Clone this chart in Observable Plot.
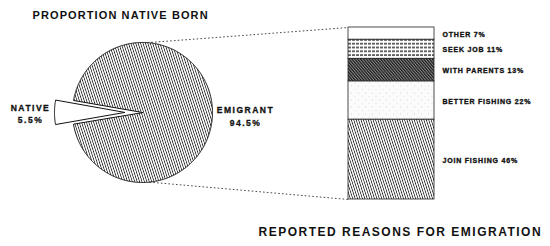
<!DOCTYPE html>
<html>
<head>
<meta charset="utf-8">
<script src="https://cdn.jsdelivr.net/npm/d3@7"></script>
<script src="https://cdn.jsdelivr.net/npm/@observablehq/plot@0.6"></script>
<style>
  html, body { margin: 0; padding: 0; background: #fff; }
  #chart svg { display: block; }
</style>
</head>
<body>
<!-- fill textures shared by the pie and the column -->
<svg width="0" height="0" style="position:absolute">
  <defs>
    <pattern id="fine-lines" patternUnits="userSpaceOnUse" width="2.3" height="10" patternTransform="rotate(-18)">
      <rect width="2.3" height="10" fill="#fff"/>
      <rect width="0.8" height="10" fill="#2a2a2a"/>
    </pattern>
    <pattern id="dark-lines" patternUnits="userSpaceOnUse" width="2.2" height="10" patternTransform="rotate(-40)">
      <rect width="2.2" height="10" fill="#8a8a8a"/>
      <rect width="1.2" height="10" fill="#1a1a1a"/>
    </pattern>
    <pattern id="dash-rows" patternUnits="userSpaceOnUse" width="4" height="3.8">
      <rect width="4" height="3.8" fill="#fff"/>
      <rect x="0" y="1.2" width="3" height="1.4" fill="#2a2a2a"/>
    </pattern>
    <pattern id="stipple" patternUnits="userSpaceOnUse" width="7" height="7">
      <rect width="7" height="7" fill="#fbfbfb"/>
      <circle cx="1.5" cy="2" r="0.45" fill="#b0b0b0"/>
      <circle cx="5" cy="5.5" r="0.4" fill="#c4c4c4"/>
    </pattern>
  </defs>
</svg>
<div id="chart"></div>
<script>
// Where residents were born
const origins = ["NATIVE", "EMIGRANT"];
const originShares = [5.5, 94.5];

// Reasons given for emigrating, listed from the bottom of the column up
const reasons = ["JOIN FISHING", "BETTER FISHING", "WITH PARENTS", "SEEK JOB", "OTHER"];
const reasonShares = [46, 22, 13, 11, 7];

const titles = ["PROPORTION NATIVE BORN", "REPORTED REASONS FOR EMIGRATION"];

// Layout
const W = 550, H = 246;
const pie = {cx: 142, cy: 112, r: 70, explode: 18};
const bar = {left: 348, right: 434, top: 27, bottom: 199};

// Textures for each piece
const originFill = {"NATIVE": "#fff", "EMIGRANT": "url(#fine-lines)"};
const reasonFill = {
  "JOIN FISHING": "url(#fine-lines)",
  "BETTER FISHING": "url(#stipple)",
  "WITH PARENTS": "url(#dark-lines)",
  "SEEK JOB": "url(#dash-rows)",
  "OTHER": "#fff"
};

const total = d3.sum(reasonShares);
// The y scale is in percent of emigrants; layout rows are converted into it
const yOf = py => total * (bar.bottom - py) / (bar.bottom - bar.top);

// Pie slices, with the native slice centred on the left and pulled out
const originTotal = d3.sum(originShares);
const nativeAngle = 2 * Math.PI * originShares[0] / originTotal;
const start = 1.5 * Math.PI - nativeAngle / 2;
const arcs = d3.pie().sort(null).startAngle(start).endAngle(start + 2 * Math.PI)(originShares);

const slices = arcs.map((a, i) => {
  const mid = (a.startAngle + a.endAngle) / 2;
  const off = origins[i] === "NATIVE" ? pie.explode : 0;
  const ox = pie.cx + off * Math.sin(mid), oy = pie.cy - off * Math.cos(mid);
  const pts = [{x: ox, y: yOf(oy)}];
  const n = Math.max(4, Math.ceil((a.endAngle - a.startAngle) / 0.01));
  for (let k = 0; k <= n; k++) {
    const t = a.startAngle + (a.endAngle - a.startAngle) * k / n;
    pts.push({x: ox + pie.r * Math.sin(t), y: yOf(oy - pie.r * Math.cos(t))});
  }
  return {origin: origins[i], share: originShares[i], pts};
});

const reasonRows = reasons.map((reason, i) => ({reason, share: reasonShares[i]}));

// Dotted lines from the emigrant slice to the ends of the column
const tTop = 0.07, tBot = Math.PI - 0.1;
const connectors = [
  {x1: pie.cx + pie.r * Math.sin(tTop), y1: yOf(pie.cy - pie.r * Math.cos(tTop)), x2: bar.left, y2: total},
  {x1: pie.cx + pie.r * Math.sin(tBot), y1: yOf(pie.cy - pie.r * Math.cos(tBot)), x2: bar.left, y2: 0}
];

const originLabels = [
  {text: `${origins[0]}\n${originShares[0]}%`, x: pie.cx - pie.explode - pie.r - 24, y: yOf(pie.cy + 0.5)},
  {text: `${origins[1]}\n${originShares[1]}%`, x: pie.cx + pie.r + 33, y: yOf(pie.cy + 3)}
];

const titleRows = [
  {text: titles[0], x: 32, y: yOf(15), size: 11},
  {text: titles[1], x: 258, y: yOf(232), size: 12}
];

const font = "'Liberation Sans', Arial, Helvetica, sans-serif";

const chart = Plot.plot({
  width: W,
  height: H,
  margin: 0,
  x: {domain: [0, W], range: [0, W], axis: null},
  y: {domain: [0, total], range: [bar.bottom, bar.top], axis: null},
  color: {type: "identity"},
  style: {fontFamily: font, background: "#fff"},
  marks: [
    Plot.link(connectors, {
      x1: "x1", y1: "y1", x2: "x2", y2: "y2",
      stroke: "#333", strokeWidth: 0.9, strokeDasharray: "1.6,2.2"
    }),
    ...slices.map(s => Plot.line(s.pts, {
      x: "x", y: "y", curve: "linear-closed",
      fill: originFill[s.origin], stroke: "#111", strokeWidth: 1
    })),
    Plot.rectY(reasonRows, Plot.stackY({
      x1: bar.left, x2: bar.right, y: "share",
      fill: d => reasonFill[d.reason], stroke: "#222", strokeWidth: 0.8
    })),
    Plot.text(reasonRows, Plot.stackY({
      x: bar.right + 8, y: "share",
      text: d => `${d.reason} ${d.share}%`,
      textAnchor: "start", fontSize: 7, fontWeight: "bold",
      fill: "#111", stroke: "#111", strokeWidth: 0.35, paintOrder: "normal", dy: 1
    })),
    Plot.text(originLabels, {
      x: "x", y: "y", text: "text", textAnchor: "middle", lineAnchor: "middle",
      fontSize: 8.5, fontWeight: "bold", lineHeight: 1.5,
      fill: "#111", stroke: "#111", strokeWidth: 0.3, paintOrder: "normal"
    }),
    Plot.text(titleRows, {
      x: "x", y: "y", text: "text", textAnchor: "start", lineAnchor: "middle",
      fontSize: "size", fontWeight: "bold", fill: "#111"
    })
  ]
});

// Wide, poster-style letter spacing for each group of labels
const spacing = [0.8, 1.5, null];
chart.querySelectorAll('g[aria-label="text"]').forEach((g, i) => {
  if (i < 2) g.setAttribute("letter-spacing", spacing[i]);
});
const titleTexts = chart.querySelectorAll('g[aria-label="text"]')[2].querySelectorAll("text");
titleTexts[0].setAttribute("letter-spacing", 1.1);
titleTexts[1].setAttribute("letter-spacing", 1.5);

document.getElementById("chart").append(chart);
</script>
</body>
</html>
